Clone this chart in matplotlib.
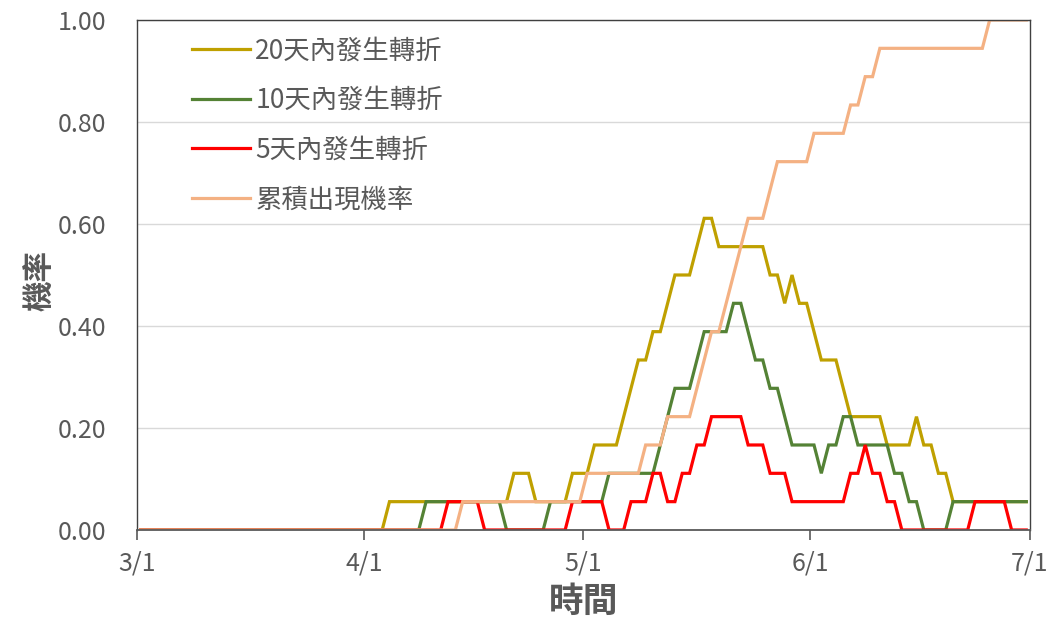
import numpy as np
import pandas as pd
import matplotlib
matplotlib.use("Agg")
import matplotlib.pyplot as plt

plt.rcParams["font.family"] = ["Noto Sans CJK TC", "DejaVu Sans"]

# Daten: Anzahl Fälle (von 18) pro Tag, 3/1 bis 6/30
n_cases = 18
start_date = "2021-03-01"
n_days = 122

count_20d = [0] * 34 + [1] * 17 + [2] * 3 + [1] * 5 + [2] * 3 + [3] * 4 + [4, 5, 6, 6, 7, 7, 8, 9, 9, 9, 10, 11, 11] \
    + [10] * 7 + [9, 9, 8, 9, 8, 8, 7, 6, 6, 6, 5] + [4] * 5 + [3] * 4 + [4, 3, 3, 2, 2] + [1] * 11
count_10d = [0] * 39 + [1] * 11 + [0] * 6 + [1] * 8 + [2] * 7 + [3, 4, 5, 5, 5, 6, 7, 7, 7, 7, 8, 8, 7, 6, 6, 5, 5, 4] \
    + [3] * 4 + [2, 3, 3, 4, 4] + [3] * 5 + [2, 2, 1, 1] + [0] * 4 + [1] * 11
count_5d = [0] * 42 + [1] * 5 + [0] * 12 + [1] * 5 + [0] * 3 + [1, 1, 1, 2, 2, 1, 1, 2, 2, 3, 3] + [4] * 5 \
    + [3, 3, 3, 2, 2, 2] + [1] * 8 + [2, 2, 3, 2, 2, 1, 1] + [0] * 10 + [1] * 5 + [0] * 3
count_cum = [0] * 44 + [1] * 17 + [2] * 8 + [3] * 3 + [4] * 4 + [5, 6, 7, 7, 8, 9, 10, 11, 11, 11, 12] + [13] * 5 \
    + [14] * 5 + [15, 15, 16, 16] + [17] * 15 + [18] * 6

labels = ["20天內發生轉折", "10天內發生轉折", "5天內發生轉折", "累積出現機率"]
colors = ["#BFA000", "#548235", "#FF0000", "#F4B183"]
series = [count_20d, count_10d, count_5d, count_cum]

x_ticklabels = ["3/1", "4/1", "5/1", "6/1", "7/1"]
y_ticks = [0.0, 0.2, 0.4, 0.6, 0.8, 1.0]

days = pd.date_range(start_date, periods=n_days, freq="D")
# Excel: Punkte zwischen den Teilstrichen
xs = days + pd.Timedelta(hours=12)

fig = plt.figure(figsize=(10.56, 6.19), dpi=100)
ax = fig.add_axes([0.1297, 0.1438, 0.8456, 0.8239])

for vals, lab, col in zip(series, labels, colors):
    ax.plot(xs, np.array(vals) / n_cases, color=col, lw=2.3, label=lab, solid_joinstyle="miter")

ax.set_xlim(days[0], days[0] + pd.Timedelta(days=n_days))
ax.set_ylim(0, 1)
ax.set_yticks(y_ticks)
ax.set_yticklabels([f"{v:.2f}" for v in y_ticks])
ax.set_xticks(pd.date_range(start_date, periods=len(x_ticklabels), freq="MS"))
ax.set_xticklabels(x_ticklabels)

ax.grid(axis="y", color="#D9D9D9", lw=1)
ax.set_axisbelow(True)
ax.tick_params(axis="y", length=0, pad=22, labelsize=18, labelcolor="#595959")
ax.tick_params(axis="x", length=7, width=1.2, color="#595959", pad=8, labelsize=18, labelcolor="#595959")

for side in ["left", "top", "right"]:
    ax.spines[side].set_color("#404040")
    ax.spines[side].set_linewidth(1.0)
ax.spines["bottom"].set_color("#595959")
ax.spines["bottom"].set_linewidth(1.3)

ax.set_ylabel("機率", fontsize=22, fontweight="bold", color="#595959")
ax.yaxis.set_label_coords(-0.09, 0.49)
ax.set_xlabel("時間", fontsize=25, fontweight="bold", color="#595959", labelpad=5)

leg = ax.legend(loc="upper left", bbox_to_anchor=(0.0616, 0.966), frameon=False, fontsize=19,
                handlelength=2.2, handletextpad=0.2, labelspacing=0.86, borderpad=0, borderaxespad=0)
for t in leg.get_texts():
    t.set_color("#595959")

fig.savefig("out.png", dpi=100)
